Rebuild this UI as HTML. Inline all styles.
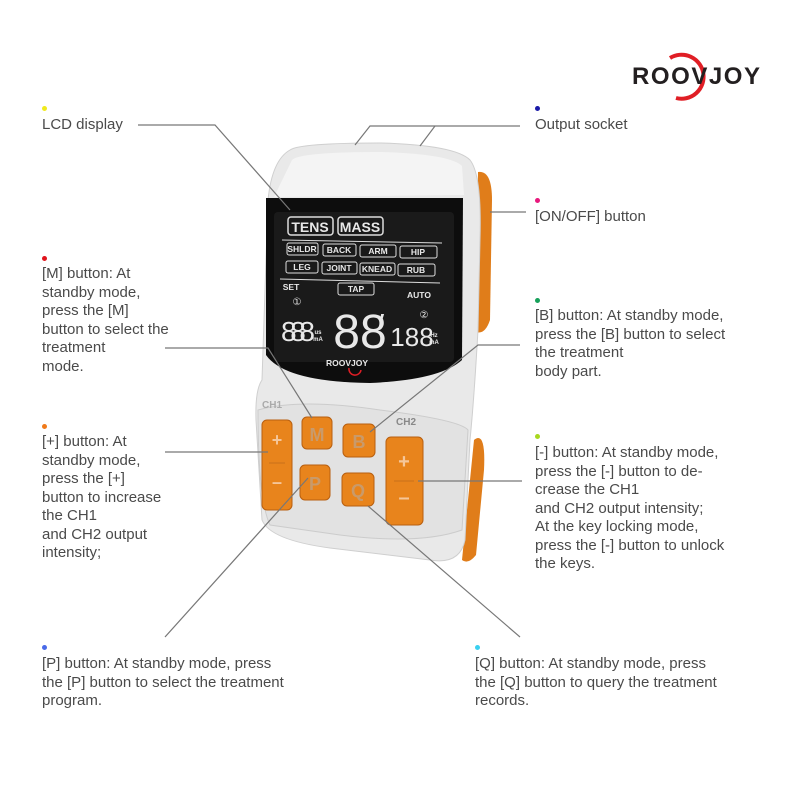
<!DOCTYPE html>
<html><head><style>
body{margin:0;background:#fff;}
.t{position:absolute;font-family:"Liberation Sans",sans-serif;font-size:15px;color:#4a4a4a;line-height:18.5px;}
.d{position:absolute;width:5px;height:5px;border-radius:50%;}
</style></head><body>
<div style="position:relative;width:800px;height:800px;overflow:hidden">
<svg width="800" height="800" style="position:absolute;left:0;top:0">
<!-- logo -->
<path d="M670 58 A22 22 0 1 1 676 98" fill="none" stroke="#e01e25" stroke-width="4"/>
<text x="632" y="84" font-family="Liberation Sans" font-weight="bold" font-size="24" fill="#231f20" textLength="128">ROOVJOY</text>
<!-- device side orange -->
<path d="M478 172 Q492 170 492 200 L490 320 Q485 335 476 332 Z" fill="#e07d1a"/>
<path d="M474 440 Q486 430 484 470 L476 555 Q468 565 462 560 Z" fill="#e07d1a"/>
<!-- body -->
<path d="M290 150 Q300 143 380 143 Q455 145 470 160 Q482 175 480 240 L478 330 Q474 400 470 440 L465 540 Q460 565 430 560 L330 548 Q270 540 262 520 L256 420 Q255 390 262 380 L268 200 Q272 160 290 150 Z" fill="#e9e9e9" stroke="#cfcfcf"/>
<path d="M292 160 Q300 152 380 152 Q450 154 462 166 L464 195 L274 197 Z" fill="#f4f4f4"/>
<!-- LCD -->
<path d="M266 198 L463 198 L462 360 Q440 380 370 383 Q285 382 266 355 Z" fill="#0d0d0d"/>
<rect x="274" y="212" width="180" height="150" rx="4" fill="#1a1a1a"/>
<g font-family="Liberation Sans" font-weight="bold" fill="#e8e8e8" text-anchor="middle">
<rect x="288" y="217" width="45" height="18" rx="3" fill="none" stroke="#ddd" stroke-width="1.5"/><text x="310" y="232" font-size="14">TENS</text>
<rect x="338" y="217" width="45" height="18" rx="3" fill="none" stroke="#ddd" stroke-width="1.5"/><text x="360" y="232" font-size="14">MASS</text>
<line x1="282" y1="240" x2="442" y2="243" stroke="#ddd"/>
<g font-size="8.5">
<rect x="287" y="243" width="31" height="12" rx="2" fill="none" stroke="#ddd"/><text x="302" y="252">SHLDR</text>
<rect x="323" y="244" width="33" height="12" rx="2" fill="none" stroke="#ddd"/><text x="339" y="253">BACK</text>
<rect x="360" y="245" width="36" height="12" rx="2" fill="none" stroke="#ddd"/><text x="378" y="254">ARM</text>
<rect x="400" y="246" width="37" height="12" rx="2" fill="none" stroke="#ddd"/><text x="418" y="255">HIP</text>
<rect x="286" y="261" width="32" height="12" rx="2" fill="none" stroke="#ddd"/><text x="302" y="270">LEG</text>
<rect x="322" y="262" width="35" height="12" rx="2" fill="none" stroke="#ddd"/><text x="339" y="271">JOINT</text>
<rect x="360" y="263" width="35" height="12" rx="2" fill="none" stroke="#ddd"/><text x="377" y="272">KNEAD</text>
<rect x="398" y="264" width="37" height="12" rx="2" fill="none" stroke="#ddd"/><text x="416" y="273">RUB</text>
<line x1="280" y1="279" x2="440" y2="283" stroke="#ddd"/>
<rect x="338" y="283" width="36" height="12" rx="2" fill="none" stroke="#ddd"/><text x="356" y="292">TAP</text>
<text x="291" y="290">SET</text><text x="419" y="298">AUTO</text>
</g>
<text x="298" y="341" font-size="28" font-weight="normal" textLength="34">888</text>
<text x="360" y="348" font-size="48" font-weight="normal">88</text><text x="382" y="328" font-size="20">′</text>
<text x="412" y="346" font-size="26" font-weight="normal">188</text>
<text x="318" y="334" font-size="6">us</text><text x="318" y="341" font-size="6">mA</text>
<text x="434" y="337" font-size="6">Hz</text><text x="434" y="344" font-size="6">mA</text>
<text x="297" y="305" font-size="10" font-weight="normal">①</text><text x="424" y="318" font-size="10" font-weight="normal">②</text>
<text x="347" y="366" font-size="8.5">ROOVJOY</text>
</g>
<path d="M349 368 A6 6 0 0 0 361 370" fill="none" stroke="#e01e25" stroke-width="1.5"/>
<!-- button panel -->
<path d="M258 410 Q300 398 380 410 Q460 420 468 430 L462 530 Q420 545 340 535 L270 525 Q258 500 258 410 Z" fill="#e2e2e2" stroke="#cccccc"/>
<text x="262" y="408" font-family="Liberation Sans" font-weight="bold" font-size="10" fill="#aaa">CH1</text>
<text x="396" y="425" font-family="Liberation Sans" font-weight="bold" font-size="10" fill="#888">CH2</text>
<g font-family="Liberation Sans" font-weight="bold" fill="#c99a6a" text-anchor="middle">
<rect x="262" y="420" width="30" height="90" rx="5" fill="#e8841c" stroke="#b85f10"/>
<text x="277" y="446" font-size="18" fill="#f5c699">+</text><line x1="269" y1="463" x2="285" y2="463" stroke="#c7701a"/><text x="277" y="488" font-size="18" fill="#f5c699">–</text>
<rect x="302" y="417" width="30" height="32" rx="5" fill="#e8841c" stroke="#b85f10"/><text x="317" y="441" font-size="18">M</text>
<rect x="343" y="424" width="32" height="33" rx="5" fill="#e8841c" stroke="#b85f10"/><text x="359" y="448" font-size="18">B</text>
<rect x="300" y="465" width="30" height="35" rx="5" fill="#e8841c" stroke="#b85f10"/><text x="315" y="490" font-size="18">P</text>
<rect x="342" y="473" width="32" height="33" rx="5" fill="#e8841c" stroke="#b85f10"/><text x="358" y="497" font-size="18">Q</text>
<rect x="386" y="437" width="37" height="88" rx="5" fill="#e8841c" stroke="#b85f10"/>
<text x="404" y="468" font-size="20" fill="#f5c699">+</text><line x1="394" y1="481" x2="414" y2="481" stroke="#c7701a"/><text x="404" y="504" font-size="20" fill="#f5c699">–</text>
</g>
<!-- leader lines -->
<g stroke="#777" stroke-width="1.2" fill="none">
<polyline points="138,125 215,125 290,210"/>
<polyline points="355,145 370,126 520,126"/>
<line x1="420" y1="146" x2="435" y2="126"/>
<line x1="490" y1="212" x2="526" y2="212"/>
<polyline points="165,348 268,348 312,418"/>
<polyline points="520,345 478,345 370,432"/>
<line x1="165" y1="452" x2="268" y2="452"/>
<line x1="418" y1="481" x2="522" y2="481"/>
<line x1="165" y1="637" x2="308" y2="478"/>
<line x1="520" y1="637" x2="368" y2="506"/>
</g>
</svg>
<div class="d" style="left:42px;top:106px;background:#f0ea1e"></div>
<div class="t" style="left:42px;top:116px">LCD display</div>
<div class="d" style="left:535px;top:106px;background:#1a1aa8"></div>
<div class="t" style="left:535px;top:116px">Output socket</div>
<div class="d" style="left:535px;top:198px;background:#e8187c"></div>
<div class="t" style="left:535px;top:208px">[ON/OFF] button</div>
<div class="d" style="left:42px;top:256px;background:#e0141c"></div>
<div class="t" style="left:42px;top:265px">[M] button: At<br>standby mode,<br>press the [M]<br>button to select the<br>treatment<br>mode.</div>
<div class="d" style="left:535px;top:298px;background:#17a05a"></div>
<div class="t" style="left:535px;top:307px">[B] button: At standby mode,<br>press the [B] button to select<br>the treatment<br>body part.</div>
<div class="d" style="left:42px;top:424px;background:#f07a1a"></div>
<div class="t" style="left:42px;top:433px">[+] button: At<br>standby mode,<br>press the [+]<br>button to increase<br>the CH1<br>and CH2 output<br>intensity;</div>
<div class="d" style="left:535px;top:434px;background:#a8d81e"></div>
<div class="t" style="left:535px;top:444px">[-] button: At standby mode,<br>press the [-] button to de-<br>crease the CH1<br>and CH2 output intensity;<br>At the key locking mode,<br>press the [-] button to unlock<br>the keys.</div>
<div class="d" style="left:42px;top:645px;background:#4a6ae8"></div>
<div class="t" style="left:42px;top:655px">[P] button: At standby mode, press<br>the [P] button to select the treatment<br>program.</div>
<div class="d" style="left:475px;top:645px;background:#3ad0f0"></div>
<div class="t" style="left:475px;top:655px">[Q] button: At standby mode, press<br>the [Q] button to query the treatment<br>records.</div>
</div>
</body></html>
